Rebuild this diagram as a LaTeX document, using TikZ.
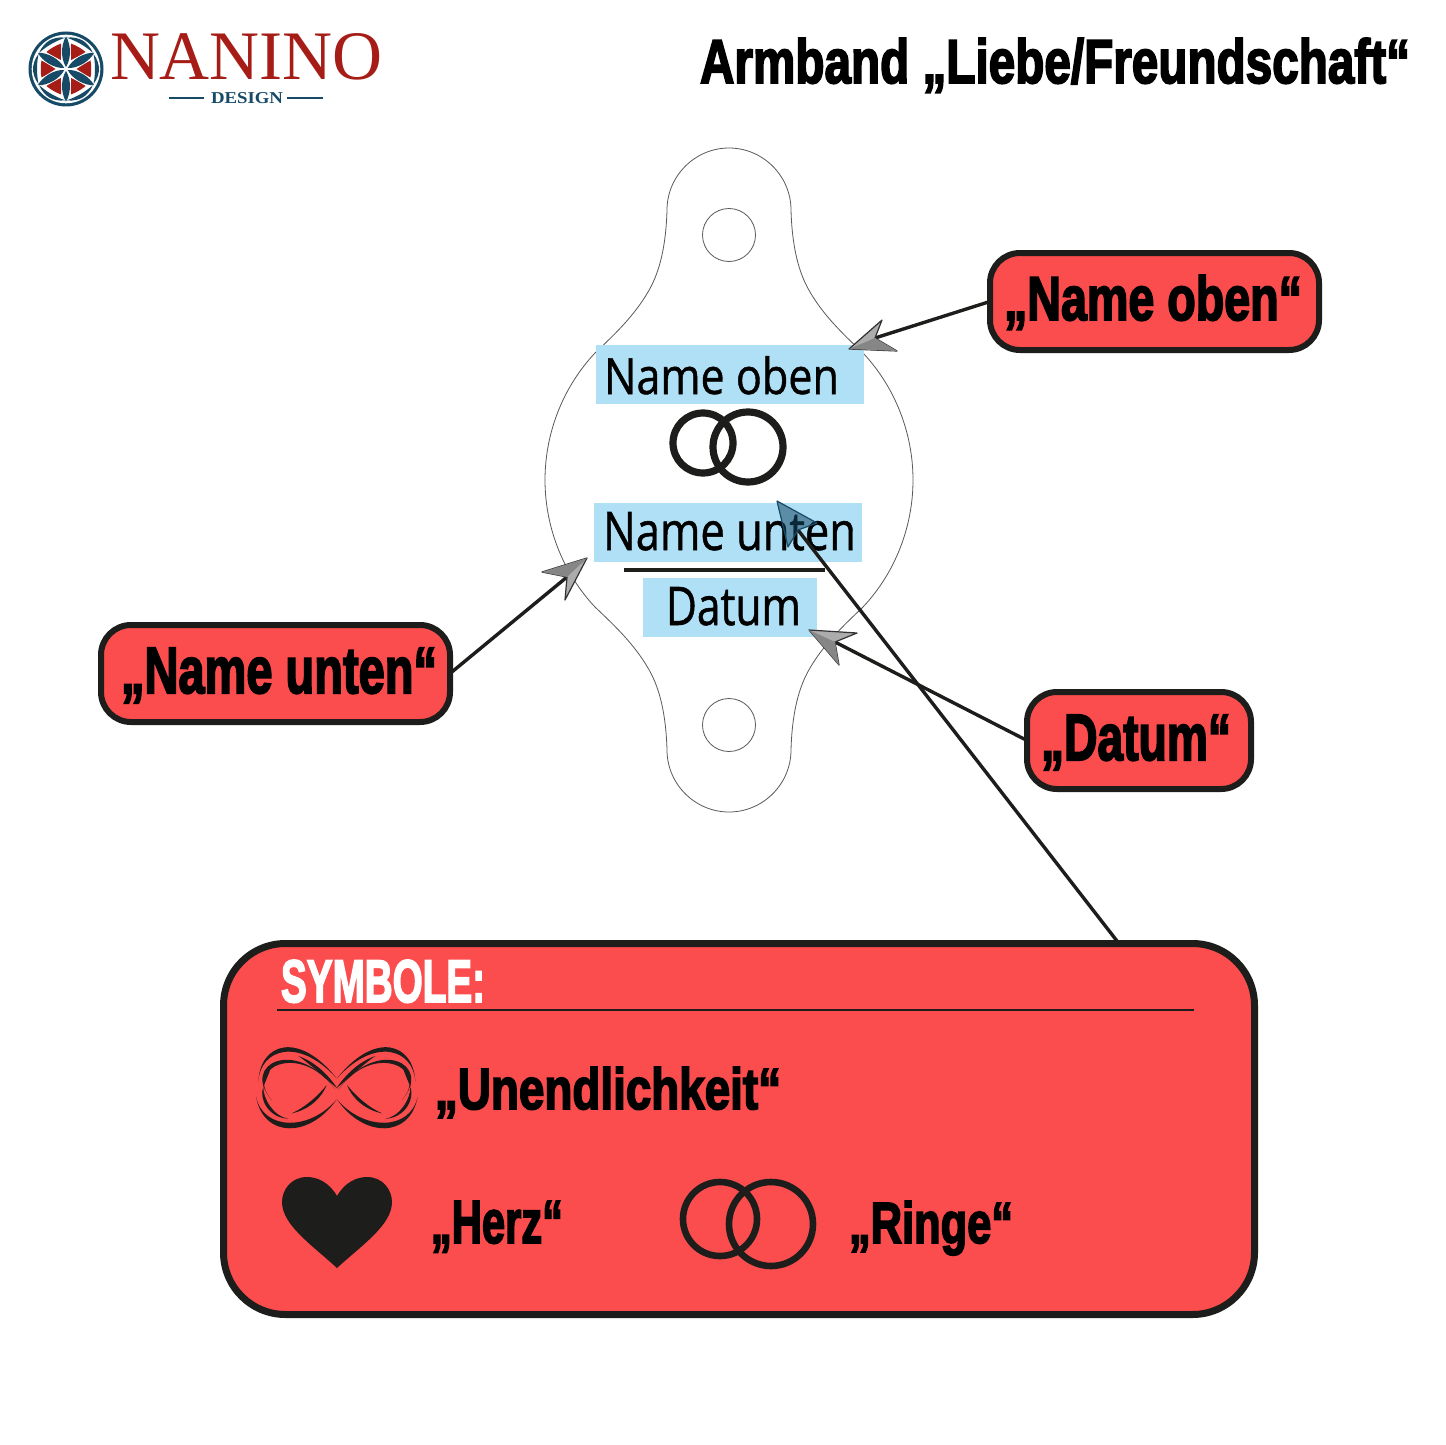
\documentclass[tikz,border=0pt]{standalone}
\usepackage{fontspec}
\usepackage{graphicx}
\newfontfamily\impactish[FakeBold=3.2]{Liberation Sans Bold}
\newfontfamily\handish[FakeBold=1]{Open Sans}
\newfontfamily\logoserif{Liberation Serif}
\newfontfamily\logoserifb{Liberation Serif Bold}
\newdimen\pxu \pxu=0.5pt
\newcommand\fitbox[3]{\resizebox{#1\pxu}{#2\pxu}{#3}}
\definecolor{boxred}{HTML}{FB4D4D}
\definecolor{inkdark}{HTML}{1D1D1B}
\definecolor{labelblue}{HTML}{B0E0F5}
\definecolor{logored}{HTML}{A51D16}
\definecolor{logoblue}{HTML}{164A67}
\tikzset{
  x=0.5pt,y=-0.5pt,
  redbox/.style={draw=inkdark,fill=boxred,line width=3pt,rounded corners=15pt,inner sep=0pt,outer sep=0pt,minimum height=48.5pt},
  txt/.style={anchor=base west,inner sep=0pt,outer sep=0pt},
  labelfill/.style={fill=labelblue,draw=none},
  conn/.style={draw=inkdark,line width=1.7pt},
  headlight/.style={fill=gray!65,draw=black!80,line width=0.6pt,line join=round},
  headdark/.style={fill=gray!95,draw=none},
  thinline/.style={draw=black!65,line width=0.4pt},
  ring/.style={draw=inkdark,line width=3.6pt},
  smallring/.style={draw=inkdark,line width=3.3pt},
}
\newcommand\lens[5]{\fill[inkdark] #1 .. controls #2 and #3 .. #4 .. controls ($#3+#5$) and ($#2+#5$) .. #1 -- cycle;}
\usetikzlibrary{calc}
\begin{document}
\begin{tikzpicture}
\useasboundingbox (0,0) rectangle (1445,1445);
\fill[white] (0,0) rectangle (1445,1445);

% logo
\fill[logoblue] (66,69) circle[radius=37.5];
\fill[white] (66,69) circle[radius=34.3];
\foreach \a in {0,60,120,180,240,300}{
  \begin{scope}[shift={(66,69)},rotate=-\a]
    \fill[logored] (10.5,0) .. controls (15,-3) and (20,-6) .. (24.5,-8.5) .. controls (25.5,-3) and (25.5,3) .. (24.5,8.5) .. controls (20,6) and (15,3) .. (10.5,0) -- cycle;
    \fill[logoblue] (27.5,-15) .. controls (29.5,-5) and (29.5,5) .. (27.5,15) .. controls (31.5,10) and (33,4) .. (33,0) .. controls (33,-4) and (31.5,-10) .. (27.5,-15) -- cycle;
  \end{scope}
}
\foreach \a in {90,150,210,270,330,30}{
  \begin{scope}[shift={(66,69)},rotate=-\a]
    \fill[logoblue] (2,0) .. controls (10,-5.3) and (24,-5.3) .. (32.5,0) .. controls (24,5.3) and (10,5.3) .. (2,0) -- cycle;
  \end{scope}
}
\node[txt,text=logored] (logoname) at (110,80) {\fitbox{273}{46}{\logoserif NANINO}};
\node[txt,text=logoblue] (logosub) at (211,104) {\fitbox{72}{11}{\logoserifb DESIGN}};
\draw[logoblue,line width=0.8pt] (169,98) -- (204,98) (287,98) -- (323,98);

% title
\node[txt] (title) at (700,83) {\fitbox{710}{45}{\impactish Armband „Liebe/Freundschaft“}};

% bracelet outline
\draw[thinline] (729,148) .. controls (763,148) and (791,176) .. (791,210)
  .. controls (792,245) and (798,272) .. (810,292)
  .. controls (824,316) and (843,334) .. (863,353)
  .. controls (895,387) and (913,433) .. (913,480)
  .. controls (913,527) and (895,573) .. (863,607)
  .. controls (843,626) and (824,644) .. (810,668)
  .. controls (798,688) and (792,715) .. (791,750)
  .. controls (791,784) and (763,812) .. (729,812)
  .. controls (695,812) and (667,784) .. (667,750)
  .. controls (666,715) and (660,688) .. (648,668)
  .. controls (634,644) and (615,626) .. (595,607)
  .. controls (563,573) and (545,527) .. (545,480)
  .. controls (545,433) and (563,387) .. (595,353)
  .. controls (615,334) and (634,316) .. (648,292)
  .. controls (660,272) and (666,245) .. (667,210)
  .. controls (667,176) and (695,148) .. (729,148) -- cycle;
\draw[thinline] (729,235) circle[radius=26.5];
\draw[thinline] (729,725) circle[radius=26.5];

% label fields
\fill[labelfill] (596,345) rectangle (864,404);
\fill[labelfill] (594,503) rectangle (862,562);
\fill[labelfill] (643,578) rectangle (817,637);
\node[txt] (tname1) at (604,394) {\fitbox{235}{38}{\handish Name oben}};
\node[txt] (tname2) at (603,550) {\fitbox{253}{38}{\handish Name unten}};
\node[txt] (tdatum) at (666,625) {\fitbox{135}{38}{\handish Datum}};
\draw[inkdark,line width=2pt] (624,570) -- (825,570);
\draw[ring] (703,443) circle[radius=30];
\draw[ring] (748,447) circle[radius=35];

% callouts
\node[redbox,minimum width=164.5pt] (boxoben) at (1154.5,301.5) {};
\node[redbox,minimum width=174.5pt] (boxunten) at (275.5,673.5) {};
\node[redbox,minimum width=112pt] (boxdatum) at (1139,740.5) {};
\node[txt] (toben) at (1004,320) {\fitbox{298}{45}{\impactish „Name oben“}};
\node[txt] (tunten) at (121,693) {\fitbox{316}{45}{\impactish „Name unten“}};
\node[txt] (tdat) at (1041,760) {\fitbox{190}{45}{\impactish „Datum“}};

% symbol panel
\node[draw=inkdark,fill=boxred,line width=3.5pt,rounded corners=31pt,inner sep=0pt,outer sep=0pt,minimum width=515.5pt,minimum height=185.5pt] (panel) at (739,1129) {};
\coordinate (paneltop) at (1117,941);
\node[txt,text=white] (tsym) at (281,1002) {\fitbox{204}{42}{\impactish SYMBOLE:}};
\draw[inkdark,line width=1pt] (277,1010) -- (1194,1010);
\node[txt] (tun) at (435,1109) {\fitbox{346}{42}{\impactish „Unendlichkeit“}};
\node[txt] (therz) at (431,1243) {\fitbox{132}{42}{\impactish „Herz“}};
\node[txt] (tringe) at (849,1243) {\fitbox{164}{42}{\impactish „Ringe“}};
\draw[smallring] (720,1219) circle[radius=37];
\draw[smallring] (771,1224) circle[radius=42];

% heart
\fill[inkdark] (337,1196) .. controls (329,1182) and (317,1177) .. (307,1177)
  .. controls (291,1177) and (282,1190) .. (282,1202)
  .. controls (282,1225) and (312,1245) .. (337,1268)
  .. controls (362,1245) and (392,1225) .. (392,1202)
  .. controls (392,1190) and (383,1177) .. (367,1177)
  .. controls (357,1177) and (345,1182) .. (337,1196) -- cycle;

% infinity (zoom coordinates, mirrored about the crossing)
\foreach \sx/\ox in {1/220,-1/453.67}{
\begin{scope}[shift={(\ox,1030)},xscale=\sx/3,yscale=1/3]
  \lens{(115,155)}{(120,40)}{(235,0)}{(350,145)}{(0,18)}
  \lens{(108,200)}{(130,325)}{(270,325)}{(350,208)}{(0,-22)}
  \lens{(155,210)}{(60,100)}{(230,20)}{(345,178)}{(10,13)}
  \lens{(215,250)}{(265,240)}{(305,205)}{(320,165)}{(-11,-7)}
  \lens{(235,78)}{(285,95)}{(325,135)}{(352,175)}{(-13,8)}
  \lens{(205,266)}{(150,265)}{(115,210)}{(130,170)}{(13,-4)}
  \lens{(130,170)}{(130,140)}{(140,115)}{(158,100)}{(11,4)}
\end{scope}
}

% connectors and arrowheads
\coordinate (tipoben) at (875,338);
\coordinate (tipunten) at (567,577);
\coordinate (tipdatum) at (835,642);
\coordinate (tipsym) at (798,530);
\draw[conn] (boxoben.west) -- (tipoben);
\draw[conn] (boxunten.east) -- (tipunten);
\draw[conn] (boxdatum.west) -- (tipdatum);
\draw[conn] (paneltop) -- (tipsym);

\path[headlight] (849,349) -- (882,320) -- (875,338) -- (897,351) -- cycle;
\path[headdark] (849,349) -- (875,338) -- (897,351) -- cycle;
\path[headlight] (587,558) -- (542,572) -- (567,577) -- (565,600) -- cycle;
\path[headdark] (587,558) -- (542,572) -- (567,577) -- cycle;
\path[headlight] (809,630) -- (857,633) -- (835,642) -- (839,665) -- cycle;
\path[headdark] (809,630) -- (835,642) -- (839,665) -- cycle;
\path[headlight,draw=logoblue,fill=logoblue,fill opacity=0.55] (777,501) -- (817,523) -- (798,530) -- (788,547) -- cycle;
\end{tikzpicture}
\end{document}
